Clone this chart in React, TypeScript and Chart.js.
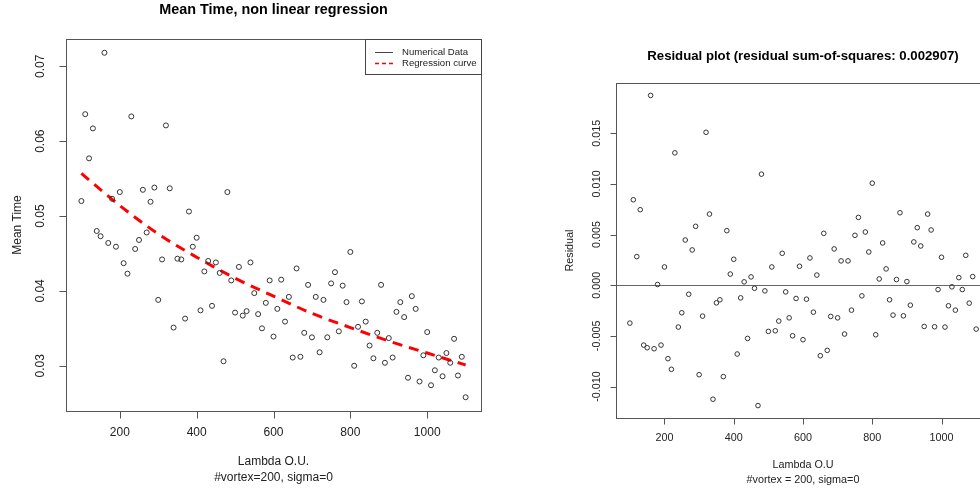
import { useEffect, useRef } from "react";
import { Chart, registerables } from "chart.js";

Chart.register(...registerables);

// Lambda O.U. values shared by both panels
const lambdaOU = [
  100, 110, 120, 130, 140, 150, 160, 170, 180, 190,
  200, 210, 220, 230, 240, 250, 260, 270, 280, 290,
  300, 310, 320, 330, 340, 350, 360, 370, 380, 390,
  400, 410, 420, 430, 440, 450, 460, 470, 480, 490,
  500, 510, 520, 530, 540, 550, 560, 570, 580, 590,
  600, 610, 620, 630, 640, 650, 660, 670, 680, 690,
  700, 710, 720, 730, 740, 750, 760, 770, 780, 790,
  800, 810, 820, 830, 840, 850, 860, 870, 880, 890,
  900, 910, 920, 930, 940, 950, 960, 970, 980, 990,
  1000, 1010, 1020, 1030, 1040, 1050, 1060, 1070, 1080, 1090,
  1100,
];

// Measured mean time for each lambda
const meanTime = [
  0.0520, 0.0636, 0.0577, 0.0617, 0.0480, 0.0473, 0.0718, 0.0464, 0.0523, 0.0459,
  0.0532, 0.0437, 0.0423, 0.0633, 0.0456, 0.0468, 0.0535, 0.0478, 0.0519, 0.0538,
  0.0388, 0.0442, 0.0621, 0.0537, 0.0351, 0.0443, 0.0442, 0.0363, 0.0506, 0.0459,
  0.0471, 0.0374, 0.0426, 0.0440, 0.0380, 0.0438, 0.0424, 0.0306, 0.0532, 0.0414,
  0.0371, 0.0432, 0.0367, 0.0373, 0.0438, 0.0397, 0.0369, 0.0350, 0.0384, 0.0414,
  0.0339, 0.0376, 0.0415, 0.0359, 0.0392, 0.0311, 0.0430, 0.0312, 0.0344, 0.0408,
  0.0338, 0.0392, 0.0318, 0.0388, 0.0338, 0.0410, 0.0425, 0.0346, 0.0407, 0.0385,
  0.0452, 0.0300, 0.0352, 0.0386, 0.0359, 0.0327, 0.0310, 0.0344, 0.0408, 0.0304,
  0.0337, 0.0311, 0.0372, 0.0385, 0.0365, 0.0284, 0.0393, 0.0376, 0.0279, 0.0314,
  0.0345, 0.0274, 0.0294, 0.0311, 0.0286, 0.0317, 0.0304, 0.0336, 0.0287, 0.0312,
  0.0258,
];

// Fitted regression curve
const curveLambda = [100, 200, 300, 400, 500, 600, 700, 800, 900, 1000, 1100];
const curveMeanTime = [
  0.0557, 0.0514, 0.0476, 0.0445, 0.0417, 0.0393, 0.0370, 0.0351, 0.0333, 0.0317, 0.0301,
];

// Residuals of the fit
const residuals = [
  -0.00374, 0.00843, 0.00282, 0.00745, -0.00591, -0.00617, 0.01873, -0.00627, 0.00007, -0.00591,
  0.0018, -0.00725, -0.0083, 0.01306, -0.00413, -0.00272, 0.00446, -0.00089, 0.00348, 0.00581,
  -0.00883, -0.00305, 0.01509, 0.00702, -0.01125, -0.00174, -0.00144, -0.00902, 0.00538, 0.0011,
  0.00256, -0.00679, -0.00125, 0.00033, -0.00525, 0.00082, -0.0003, -0.01188, 0.01096, -0.00056,
  -0.00456, 0.0018, -0.0045, -0.00354, 0.00315, -0.00066, -0.00322, -0.00499, -0.00131, 0.00187,
  -0.00538, -0.00138, 0.00269, -0.00266, 0.001, -0.00696, 0.00512, -0.00643, -0.00308, 0.00358,
  -0.00322, 0.0024, -0.00482, 0.0024, -0.00246, 0.00492, 0.00669, -0.00105, 0.00525, 0.00328,
  0.01007, -0.00489, 0.00062, 0.00417, 0.00161, -0.00144, -0.00295, 0.00056, 0.00715, -0.00302,
  0.00036, -0.00197, 0.00427, 0.00568, 0.00387, -0.00407, 0.00702, 0.00545, -0.0041, -0.00043,
  0.00276, -0.00413, -0.00203, -0.00016, -0.00246, 0.00075, -0.00043, 0.00295, -0.00177, 0.00085,
  -0.00433,
];

// Axis ticks and their labels
const lambdaTicks = [200, 400, 600, 800, 1000];
const lambdaTickLabels = ["200", "400", "600", "800", "1000"];
const meanTimeTicks = [0.03, 0.04, 0.05, 0.06, 0.07];
const meanTimeTickLabels = ["0.03", "0.04", "0.05", "0.06", "0.07"];
const residualTicks = [-0.01, -0.005, 0, 0.005, 0.01, 0.015];
const residualTickLabels = ["-0.010", "-0.005", "0.000", "0.005", "0.010", "0.015"];
const legendLabels = ["Numerical Data", "Regression curve"];

const FAMILY = '"Liberation Sans", Arial, Helvetica, sans-serif';

type PanelStyle = {
  title: string;
  titleFont: string;
  titleY: number;
  xTitle: string[];
  xTitleY: number[];
  yTitle: string;
  yTitleX: number;
  axisFont: string;
  tickFont: string;
  xTickLabelY: number;
  yTickLabelX: number;
  yTicks: number[];
  yTickLabels: string[];
  tickLen: number;
  zeroLine?: boolean;
  legend?: boolean;
};

function drawLegend(ctx: CanvasRenderingContext2D, bx: number, by: number, bw: number) {
  const bh = 35;
  ctx.save();
  ctx.fillStyle = "#ffffff";
  ctx.fillRect(bx, by, bw, bh);
  ctx.lineWidth = 1;
  ctx.strokeStyle = "#444444";
  ctx.strokeRect(bx + 0.5, by + 0.5, bw, bh);
  const rows = [by + 13, by + 24];

  // solid sample for the data series
  ctx.beginPath();
  ctx.moveTo(bx + 10, rows[0] + 0.5);
  ctx.lineTo(bx + 28, rows[0] + 0.5);
  ctx.stroke();

  // dashed red sample for the fitted curve
  ctx.strokeStyle = "#ff0000";
  ctx.lineWidth = 1.5;
  ctx.setLineDash([4, 3]);
  ctx.beginPath();
  ctx.moveTo(bx + 10, rows[1] + 0.5);
  ctx.lineTo(bx + 28, rows[1] + 0.5);
  ctx.stroke();
  ctx.setLineDash([]);

  ctx.fillStyle = "#222222";
  ctx.font = `9.6px ${FAMILY}`;
  ctx.textAlign = "left";
  ctx.textBaseline = "middle";
  legendLabels.forEach((t, i) => ctx.fillText(t, bx + 37, rows[i] + 0.5));
  ctx.restore();
}

function rStylePlugin(st: PanelStyle) {
  return {
    id: "rStyle",
    beforeDatasetsDraw(chart: any) {
      if (!st.zeroLine) return;
      const { ctx, chartArea } = chart;
      const y = Math.round(chart.scales.y.getPixelForValue(0)) + 0.5;
      ctx.save();
      ctx.strokeStyle = "#666";
      ctx.lineWidth = 1;
      ctx.beginPath();
      ctx.moveTo(chartArea.left, y);
      ctx.lineTo(chartArea.right, y);
      ctx.stroke();
      ctx.restore();
    },
    afterDraw(chart: any) {
      const { ctx, chartArea } = chart;
      const xs = chart.scales.x;
      const ys = chart.scales.y;
      const { left, right, top, bottom } = chartArea;
      ctx.save();

      // plot frame
      ctx.strokeStyle = "#555";
      ctx.lineWidth = 1;
      ctx.strokeRect(Math.round(left) + 0.5, Math.round(top) + 0.5, Math.round(right - left), Math.round(bottom - top));

      // x ticks
      ctx.fillStyle = "#222";
      ctx.font = st.tickFont;
      ctx.textAlign = "center";
      ctx.textBaseline = "middle";
      lambdaTicks.forEach((v, i) => {
        const x = Math.round(xs.getPixelForValue(v)) + 0.5;
        ctx.beginPath();
        ctx.moveTo(x, Math.round(bottom) + 0.5);
        ctx.lineTo(x, Math.round(bottom) + 0.5 + st.tickLen);
        ctx.stroke();
        ctx.fillText(lambdaTickLabels[i], xs.getPixelForValue(v), st.xTickLabelY);
      });

      // y ticks (labels run parallel to the axis)
      st.yTicks.forEach((v, i) => {
        const y = Math.round(ys.getPixelForValue(v)) + 0.5;
        ctx.beginPath();
        ctx.moveTo(Math.round(left) + 0.5, y);
        ctx.lineTo(Math.round(left) + 0.5 - st.tickLen, y);
        ctx.stroke();
        ctx.save();
        ctx.translate(st.yTickLabelX, ys.getPixelForValue(v));
        ctx.rotate(-Math.PI / 2);
        ctx.fillText(st.yTickLabels[i], 0, 0);
        ctx.restore();
      });

      // axis titles
      ctx.font = st.axisFont;
      const cx = (left + right) / 2;
      st.xTitle.forEach((t, i) => ctx.fillText(t, cx, st.xTitleY[i]));
      ctx.save();
      ctx.translate(st.yTitleX, (top + bottom) / 2);
      ctx.rotate(-Math.PI / 2);
      ctx.fillText(st.yTitle, 0, 0);
      ctx.restore();

      // main title
      ctx.fillStyle = "#000";
      ctx.font = st.titleFont;
      ctx.fillText(st.title, cx, st.titleY);
      ctx.restore();

      if (st.legend) {
        drawLegend(ctx, 365, Math.round(top), Math.round(right) - 365);
      }
    },
  };
}

function baseScales(yMin: number, yMax: number, yWidth: number, xHeight: number) {
  return {
    x: {
      type: "linear",
      min: 60,
      max: 1140,
      grid: { display: false },
      border: { display: false },
      ticks: { display: false },
      afterFit: (s: any) => {
        s.height = xHeight;
      },
    },
    y: {
      type: "linear",
      min: yMin,
      max: yMax,
      grid: { display: false },
      border: { display: false },
      ticks: { display: false },
      afterFit: (s: any) => {
        s.width = yWidth;
      },
    },
  };
}

function pointDataset(ys: number[], radius: number) {
  return {
    type: "scatter",
    data: lambdaOU.map((x, i) => ({ x, y: ys[i] })),
    showLine: false,
    pointStyle: "circle",
    pointRadius: radius,
    pointBorderWidth: 1,
    pointBorderColor: "#333",
    pointBackgroundColor: "rgba(0,0,0,0)",
    borderColor: "#333",
    backgroundColor: "rgba(0,0,0,0)",
  };
}

export default function App() {
  const leftRef = useRef<HTMLCanvasElement>(null);
  const rightRef = useRef<HTMLCanvasElement>(null);

  useEffect(() => {
    const left = new Chart(leftRef.current as HTMLCanvasElement, {
      type: "scatter",
      data: {
        datasets: [
          pointDataset(meanTime, 2.5) as any,
          {
            type: "line",
            data: curveLambda.map((x, i) => ({ x, y: curveMeanTime[i] })),
            borderColor: "#ff0000",
            borderWidth: 3,
            borderDash: [10, 7],
            pointRadius: 0,
            fill: false,
            showLine: true,
            cubicInterpolationMode: "monotone",
          } as any,
        ],
      },
      options: {
        responsive: false,
        animation: false,
        devicePixelRatio: 1,
        events: [],
        layout: { padding: { top: 39, right: 59, bottom: 0, left: 0 } },
        plugins: { legend: { display: false }, tooltip: { enabled: false }, title: { display: false } },
        scales: baseScales(0.02396, 0.07364, 66, 80) as any,
      },
      plugins: [
        rStylePlugin({
          title: "Mean Time, non linear regression",
          titleFont: `bold 14.4px ${FAMILY}`,
          titleY: 10,
          xTitle: ["Lambda O.U.", "#vortex=200, sigma=0"],
          xTitleY: [462, 478],
          yTitle: "Mean Time",
          yTitleX: 18,
          axisFont: `12px ${FAMILY}`,
          tickFont: `12px ${FAMILY}`,
          xTickLabelY: 433,
          yTickLabelX: 41,
          yTicks: meanTimeTicks,
          yTickLabels: meanTimeTickLabels,
          tickLen: 7,
          legend: true,
        }) as any,
      ],
    });

    const right = new Chart(rightRef.current as HTMLCanvasElement, {
      type: "scatter",
      data: { datasets: [pointDataset(residuals, 2.3) as any] },
      options: {
        responsive: false,
        animation: false,
        devicePixelRatio: 1,
        events: [],
        layout: { padding: { top: 83, right: 30, bottom: 0, left: 0 } },
        plugins: { legend: { display: false }, tooltip: { enabled: false }, title: { display: false } },
        scales: baseScales(-0.013104, 0.019954, 76, 73) as any,
      },
      plugins: [
        rStylePlugin({
          title: "Residual plot (residual sum-of-squares: 0.002907)",
          titleFont: `bold 13.2px ${FAMILY}`,
          titleY: 56,
          xTitle: ["Lambda O.U", "#vortex = 200, sigma=0"],
          xTitleY: [465, 480],
          yTitle: "Residual",
          yTitleX: 30,
          axisFont: `10.8px ${FAMILY}`,
          tickFont: `10.8px ${FAMILY}`,
          xTickLabelY: 438,
          yTickLabelX: 57,
          yTicks: residualTicks,
          yTickLabels: residualTickLabels,
          tickLen: 6,
          zeroLine: true,
        }) as any,
      ],
    });

    return () => {
      left.destroy();
      right.destroy();
    };
  }, []);

  return (
    <div
      style={{
        position: "fixed",
        left: 0,
        top: 0,
        width: 980,
        height: 491,
        overflow: "hidden",
        background: "#fff",
      }}
    >
      <canvas
        ref={leftRef}
        width={540}
        height={491}
        style={{ position: "absolute", left: 0, top: 0, width: 540, height: 491 }}
      />
      <canvas
        ref={rightRef}
        width={480}
        height={491}
        style={{ position: "absolute", left: 540, top: 0, width: 480, height: 491 }}
      />
    </div>
  );
}
